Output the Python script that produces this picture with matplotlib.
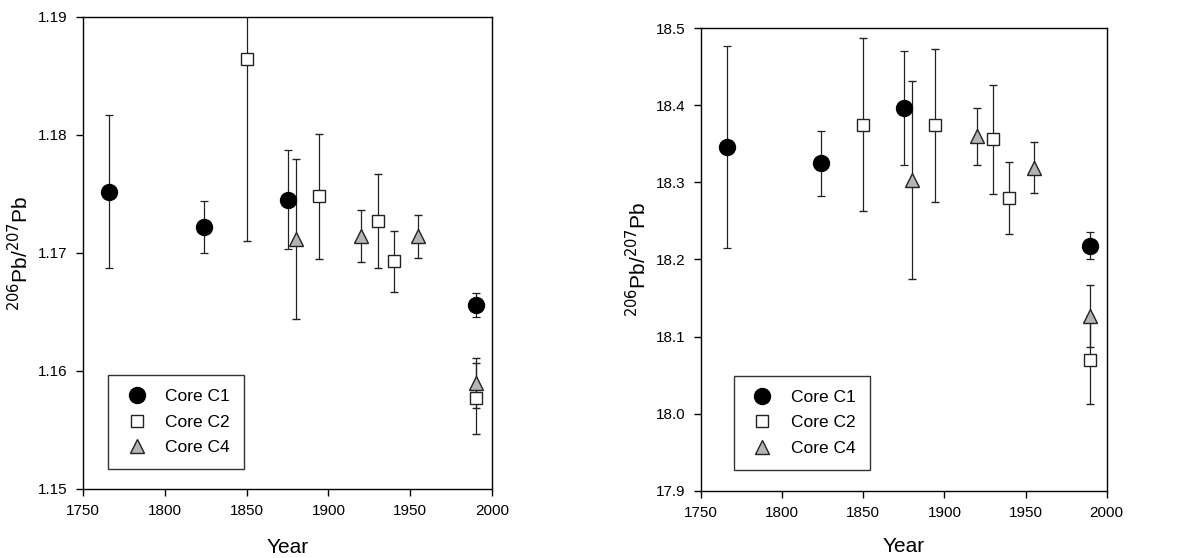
'''
206Pb/207Pb ratios against year for cores C1, C2 and C4
'''

import numpy as np
import matplotlib
matplotlib.use('Agg')
import matplotlib.pyplot as plt
from matplotlib.lines import Line2D
from matplotlib.ticker import FormatStrFormatter

plt.rcParams['font.family'] = ['Liberation Sans', 'DejaVu Sans']

# left panel data
c1_years = [1766, 1824, 1875, 1990]
c1_left = [1.1752, 1.1722, 1.1745, 1.1656]
c1_left_err = [0.0065, 0.0022, 0.0042, 0.0010]

c2_years = [1850, 1894, 1930, 1940, 1990]
c2_left = [1.1864, 1.1748, 1.1727, 1.1693, 1.1577]
c2_left_err = [0.0154, 0.0053, 0.0040, 0.0026, 0.0030]

c4_years = [1880, 1920, 1955, 1990]
c4_left = [1.1712, 1.1714, 1.1714, 1.1590]
c4_left_err = [0.0068, 0.0022, 0.0018, 0.0021]

# right panel data
c1_right = [18.346, 18.325, 18.396, 18.218]
c1_right_err = [0.131, 0.042, 0.074, 0.018]

c2_right = [18.375, 18.374, 18.356, 18.280, 18.070]
c2_right_err = [0.112, 0.099, 0.071, 0.047, 0.057]

c4_right = [18.303, 18.360, 18.319, 18.127]
c4_right_err = [0.128, 0.037, 0.033, 0.040]

labels = ['Core C1', 'Core C2', 'Core C4']
tri_gray = '#b4b4b4'

fig = plt.figure(figsize=(12.03, 5.58), dpi=100)
ax1 = fig.add_axes([0.0690, 0.1237, 0.340, 0.8459])
ax2 = fig.add_axes([0.5827, 0.1206, 0.3372, 0.8287])

panels = [
    (ax1, [c1_left, c2_left, c4_left], [c1_left_err, c2_left_err, c4_left_err],
     (1.15, 1.19), np.arange(1.15, 1.1901, 0.01), '%.2f', (0.061, 0.042), 14),
    (ax2, [c1_right, c2_right, c4_right], [c1_right_err, c2_right_err, c4_right_err],
     (17.9, 18.5), np.arange(17.9, 18.501, 0.1), '%.1f', (0.081, 0.045), 12),
]

for ax, vals, errs, ylim, yticks, fmt, legpos, xpad in panels:
    ebkw = dict(ecolor='#222222', elinewidth=0.9, capsize=3, capthick=0.9, ls='none')
    ax.errorbar(c1_years, vals[0], yerr=errs[0], marker='o', ms=11.5,
                mfc='black', mec='black', **ebkw)
    ax.errorbar(c2_years, vals[1], yerr=errs[1], marker='s', ms=8.5,
                mfc='white', mec='#222222', mew=1.0, **ebkw)
    ax.errorbar(c4_years, vals[2], yerr=errs[2], marker='^', ms=10,
                mfc=tri_gray, mec='#222222', mew=1.0, **ebkw)

    ax.set_xlim(1750, 2000)
    ax.set_ylim(*ylim)
    ax.set_xticks(np.arange(1750, 2001, 50))
    ax.set_yticks(yticks)
    ax.yaxis.set_major_formatter(FormatStrFormatter(fmt))
    ax.tick_params(direction='out', length=5, width=1, labelsize=11, pad=6)
    for s in ax.spines.values():
        s.set_linewidth(1)

    ax.set_xlabel('Year', fontsize=15, labelpad=xpad)
    ax.set_ylabel('$^{206}$Pb/$^{207}$Pb', fontsize=15, labelpad=4)

    # legend with markers only
    handles = [
        Line2D([], [], ls='none', marker='o', ms=11.5, mfc='black', mec='black'),
        Line2D([], [], ls='none', marker='s', ms=8.5, mfc='white', mec='#222222'),
        Line2D([], [], ls='none', marker='^', ms=10, mfc=tri_gray, mec='#222222'),
    ]
    leg = ax.legend(handles, labels, loc='lower left', bbox_to_anchor=legpos,
                    borderaxespad=0, fontsize=12.5, frameon=True, fancybox=False,
                    edgecolor='black', handlelength=1.7, handletextpad=0.8,
                    borderpad=0.8, labelspacing=0.6)
    leg.get_frame().set_linewidth(1)

fig.savefig('out.png', dpi=100)
